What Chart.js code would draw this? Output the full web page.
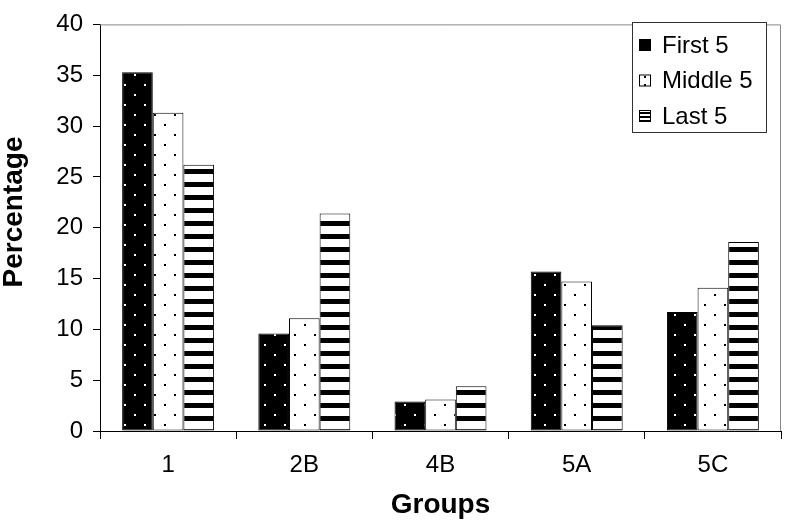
<!DOCTYPE html>
<html>
<head>
<meta charset="utf-8">
<script src="https://cdn.jsdelivr.net/npm/chart.js@4"></script>
<style>
    html, body { margin: 0; padding: 0; background: #fff; }
    #wrap { width: 786px; height: 529px; }
</style>
</head>
<body>
<div id="wrap"><canvas id="chart" width="786" height="529"></canvas></div>
<script>
// Data
const groups = ['1', '2B', '4B', '5A', '5C'];
const first5 = [35.3, 9.6, 2.9, 15.7, 11.7];
const middle5 = [31.3, 11.1, 3.1, 14.7, 14.1];
const last5 = [26.2, 21.4, 4.4, 10.4, 18.6];
const yTickLabels = ['0', '5', '10', '15', '20', '25', '30', '35', '40'];

const FONT = "'Liberation Sans', Arial, sans-serif";
const canvas = document.getElementById('chart');
const ctx = canvas.getContext('2d');

// Fill patterns
function dots(bg, fg, size) {
    const c = document.createElement('canvas');
    c.width = size; c.height = size;
    const g = c.getContext('2d');
    g.fillStyle = bg;
    g.fillRect(0, 0, size, size);
    g.fillStyle = fg;
    g.fillRect(4, 4, 2, 2);
    g.fillRect(4 + size / 2, 4 + size / 2, 2, 2);
    return ctx.createPattern(c, 'repeat');
}

function stripes(period, band) {
    const c = document.createElement('canvas');
    c.width = 4; c.height = period;
    const g = c.getContext('2d');
    g.fillStyle = '#fff';
    g.fillRect(0, 0, 4, period);
    g.fillStyle = '#000';
    g.fillRect(0, 0, 4, band);
    return ctx.createPattern(c, 'repeat');
}

const fills = [dots('#000', '#fff', 20), dots('#fff', '#000', 20), stripes(13, 5)];
const swatches = ['#000', dots('#fff', '#000', 8), stripes(4, 2)];

// Gray frame on top and right of the plot area
const frame = {
    id: 'frame',
    afterDatasetsDraw(chart) {
        const { ctx, chartArea: a } = chart;
        ctx.save();
        ctx.strokeStyle = '#888';
        ctx.lineWidth = 1;
        ctx.beginPath();
        ctx.moveTo(a.left, a.top + 0.5);
        ctx.lineTo(a.right - 0.5, a.top + 0.5);
        ctx.lineTo(a.right - 0.5, a.bottom);
        ctx.stroke();
        ctx.restore();
    }
};

// y title sits a bit above the middle of the axis in the reference
const yTitle = {
    id: 'yTitle',
    afterDraw(chart) {
        const ctx = chart.ctx;
        ctx.save();
        ctx.translate(14, 212);
        ctx.rotate(-Math.PI / 2);
        ctx.font = 'bold 28px ' + FONT;
        ctx.fillStyle = '#000';
        ctx.textAlign = 'center';
        ctx.textBaseline = 'middle';
        ctx.fillText('Percentage', 0, 0);
        ctx.restore();
    }
};

// Boxed legend inside the plot, top right
const boxLegend = {
    id: 'boxLegend',
    afterDraw(chart) {
        const ctx = chart.ctx;
        const x = 632, y = 22, w = 134, h = 110;
        ctx.save();
        ctx.fillStyle = '#fff';
        ctx.fillRect(x, y, w, h);
        ctx.strokeStyle = '#333';
        ctx.lineWidth = 1;
        ctx.strokeRect(x + 0.5, y + 0.5, w, h);
        ctx.font = '24px ' + FONT;
        ctx.textBaseline = 'middle';
        chart.data.datasets.forEach((ds, i) => {
            const cy = y + 23 + i * 35.5;
            ctx.fillStyle = swatches[i];
            ctx.fillRect(x + 7, cy - 6, 12, 12);
            ctx.strokeStyle = '#000';
            ctx.strokeRect(x + 7.5, cy - 5.5, 11, 11);
            ctx.fillStyle = '#000';
            ctx.fillText(ds.label, x + 30, cy + 1);
        });
        ctx.restore();
    }
};

new Chart(ctx, {
    type: 'bar',
    data: {
        labels: groups,
        datasets: [
            { label: 'First 5', data: first5, backgroundColor: fills[0] },
            { label: 'Middle 5', data: middle5, backgroundColor: fills[1] },
            { label: 'Last 5', data: last5, backgroundColor: fills[2] }
        ].map(ds => Object.assign(ds, {
            borderColor: '#000',
            borderWidth: 1,
            borderSkipped: false,
            barPercentage: 1,
            categoryPercentage: 0.675
        }))
    },
    options: {
        responsive: false,
        animation: false,
        layout: { padding: { top: 12, right: 5, left: 0, bottom: 0 } },
        plugins: {
            legend: { display: false },
            tooltip: { enabled: false }
        },
        scales: {
            x: {
                grid: { drawOnChartArea: false, color: '#000', tickLength: 8, offset: true },
                border: { color: '#000', width: 1 },
                ticks: { color: '#000', font: { family: FONT, size: 24 }, padding: 12 },
                title: {
                    display: true, text: 'Groups', color: '#000',
                    font: { family: FONT, size: 28, weight: 'bold', lineHeight: 1 },
                    padding: { top: 0, bottom: 10 }
                },
                afterFit(s) { s.height = 98; }
            },
            y: {
                min: 0,
                max: Number(yTickLabels[yTickLabels.length - 1]),
                grid: { drawOnChartArea: false, color: '#000', tickLength: 7 },
                border: { color: '#000', width: 1 },
                ticks: {
                    stepSize: 5,
                    color: '#000',
                    font: { family: FONT, size: 24 },
                    padding: 10,
                    callback: (v, i) => yTickLabels[i]
                },
                title: { display: false },
                afterFit(s) { s.width = 100; }
            }
        }
    },
    plugins: [frame, yTitle, boxLegend]
});
</script>
</body>
</html>
